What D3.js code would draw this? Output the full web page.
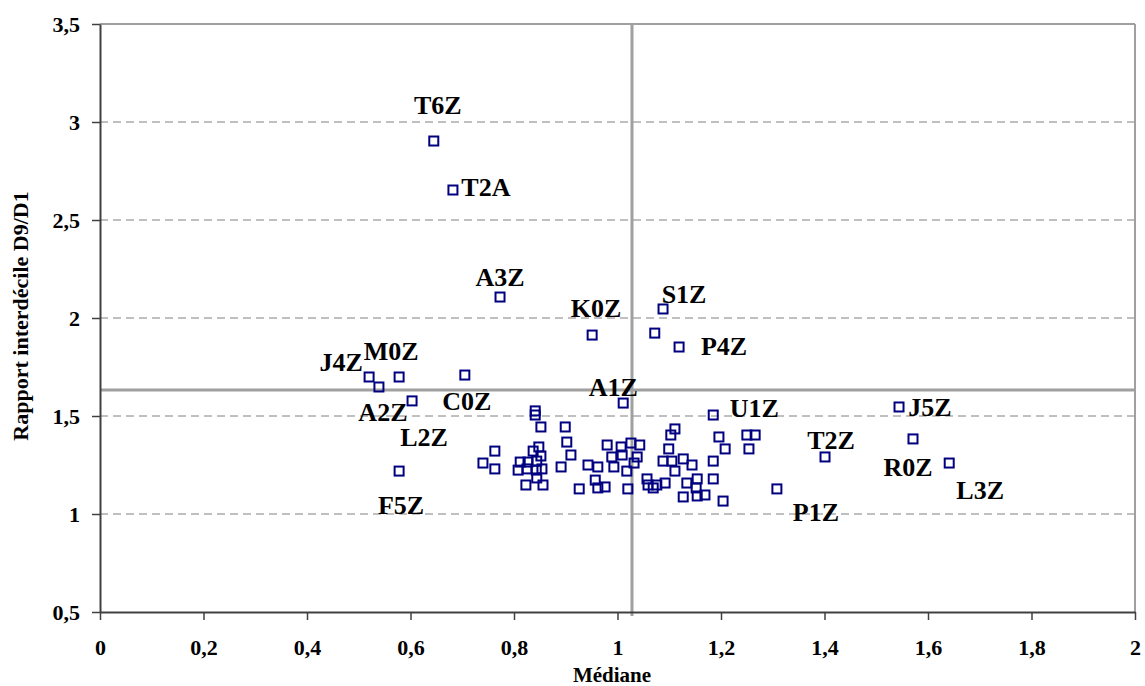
<!DOCTYPE html>
<html>
<head>
<meta charset="utf-8">
<script src="https://cdn.jsdelivr.net/npm/d3@7"></script>
<style>
body { margin: 0; background: #fff; }
text { font-family: "Liberation Serif", "Times New Roman", serif; font-weight: bold; }
</style>
</head>
<body>
<div id="grafico"></div>
<script>
const WIDTH = 1145;
const HEIGHT = 686;

// labelled points
const labels = ["T6Z","T2A","A3Z","K0Z","S1Z","P4Z","J4Z","M0Z","A2Z","C0Z","L2Z","F5Z","A1Z","U1Z","T2Z","P1Z","J5Z","R0Z","L3Z"];
const labelMedian = [0.645,0.682,0.773,0.951,1.088,1.119,0.520,0.578,0.539,0.705,0.603,0.578,1.011,1.185,1.401,1.308,1.544,1.571,1.641];
const labelRatio = [2.903,2.653,2.107,1.913,2.046,1.852,1.699,1.699,1.648,1.709,1.577,1.219,1.566,1.505,1.291,1.128,1.546,1.383,1.260];

// unlabelled points
const median = [0.740,0.763,0.763,0.841,0.841,0.852,0.899,0.902,0.848,0.837,0.852,0.910,0.812,0.827,0.844,0.808,0.825,0.843,0.854,0.891,0.823,0.844,0.856,0.926,
  0.943,0.962,0.957,0.962,0.976,0.980,1.007,1.026,1.043,0.989,1.009,1.038,0.993,1.018,1.032,1.020,
  1.057,1.059,1.069,1.076,1.092,1.088,1.105,1.127,1.144,1.111,1.099,1.111,1.103,1.134,1.154,1.152,1.169,1.154,1.127,1.185,1.185,1.196,1.208,1.204,1.250,1.266,1.254,1.072];
const ratio = [1.260,1.321,1.230,1.526,1.505,1.444,1.444,1.367,1.342,1.321,1.296,1.301,1.265,1.265,1.270,1.224,1.230,1.224,1.230,1.240,1.148,1.184,1.148,1.128,
  1.250,1.240,1.173,1.133,1.138,1.352,1.342,1.362,1.352,1.291,1.301,1.291,1.240,1.219,1.260,1.128,
  1.179,1.148,1.133,1.148,1.158,1.270,1.270,1.281,1.250,1.219,1.332,1.434,1.403,1.158,1.179,1.133,1.097,1.092,1.087,1.270,1.179,1.393,1.332,1.066,1.403,1.403,1.332,1.923];

const xTicks = [0,0.2,0.4,0.6,0.8,1,1.2,1.4,1.6,1.8,2];
const yTicks = [0.5,1,1.5,2,2.5,3,3.5];
const refMedian = 1.028;
const refRatio = 1.633;

// label placement relative to its marker (px)
const labelOffset = {
  T6Z:[4,-36], T2A:[33,-3], A3Z:[0,-20], K0Z:[4,-27], S1Z:[21,-15], P4Z:[45,-1],
  J4Z:[-28,-15], M0Z:[-8,-26], A2Z:[4,25], C0Z:[2,26], L2Z:[12,36], F5Z:[2,34],
  A1Z:[-10,-16], U1Z:[41,-7], T2Z:[6,-17], P1Z:[39,23], J5Z:[31,0], R0Z:[-5,28], L3Z:[31,27]
};

let svg = d3.select("#grafico")
    .append("svg")
    .attr("width",WIDTH)
    .attr("height",HEIGHT);

let x = d3.scaleLinear().domain([0,2]).range([100,1135]);
let y = d3.scaleLinear().domain([0.5,3.5]).range([612,24]);

const fmt = (d)=> String(d).replace(".",",");

// dashed grid
svg.append("g")
    .selectAll("line")
    .data(yTicks.filter(d=>d>0.5 && d<3.5))
    .enter()
    .append("line")
    .attr("x1",x(0)).attr("x2",x(2))
    .attr("y1",d=>y(d)).attr("y2",d=>y(d))
    .style("stroke","#808080")
    .style("stroke-width",1)
    .style("stroke-dasharray","8,5");

// frame top and right
svg.append("line")
    .attr("x1",x(0)).attr("x2",x(2)).attr("y1",y(3.5)).attr("y2",y(3.5))
    .style("stroke","#a0a0a0").style("stroke-width",2);
svg.append("line")
    .attr("x1",x(2)).attr("x2",x(2)).attr("y1",y(3.5)).attr("y2",y(0.5))
    .style("stroke","#a0a0a0").style("stroke-width",2);

// reference lines
svg.append("line")
    .attr("x1",x(refMedian)).attr("x2",x(refMedian)).attr("y1",y(3.5)).attr("y2",y(0.5)+4)
    .style("stroke","#a0a0a0").style("stroke-width",3);
svg.append("line")
    .attr("x1",x(0)).attr("x2",x(2)).attr("y1",y(refRatio)).attr("y2",y(refRatio))
    .style("stroke","#a0a0a0").style("stroke-width",3);

// axes
let xAxis = svg.append("g")
    .attr("transform","translate(0,"+y(0.5)+")")
    .call(d3.axisBottom(x).tickValues(xTicks).tickSize(8).tickSizeOuter(0).tickPadding(19).tickFormat(fmt));
let yAxis = svg.append("g")
    .attr("transform","translate("+x(0)+",0)")
    .call(d3.axisLeft(y).tickValues(yTicks).tickSize(8).tickSizeOuter(0).tickPadding(12).tickFormat(fmt));

[xAxis,yAxis].forEach((a)=>{
    a.select(".domain").style("stroke","#404040").style("stroke-width",2);
    a.selectAll(".tick line").style("stroke","#404040").style("stroke-width",1.5);
    a.selectAll(".tick text")
        .style("font-family","Liberation Serif")
        .style("font-weight","bold")
        .style("font-size","22px")
        .style("fill","black");
});

// markers
const SIZE = 9;
function drawSquares(xs,ys){
    svg.append("g")
        .selectAll("rect")
        .data(xs.map((d,i)=>[d,ys[i]]))
        .enter()
        .append("rect")
        .attr("x",d=>x(d[0])-SIZE/2)
        .attr("y",d=>y(d[1])-SIZE/2)
        .attr("width",SIZE)
        .attr("height",SIZE)
        .style("fill","none")
        .style("stroke","#000080")
        .style("stroke-width",2);
}
drawSquares(median,ratio);
drawSquares(labelMedian,labelRatio);

// point labels
svg.append("g")
    .selectAll("text")
    .data(labels)
    .enter()
    .append("text")
    .attr("x",(d,i)=>x(labelMedian[i])+labelOffset[d][0])
    .attr("y",(d,i)=>y(labelRatio[i])+labelOffset[d][1])
    .attr("dy","0.35em")
    .attr("text-anchor","middle")
    .style("font-size","26px")
    .style("fill","black")
    .text(d=>d);

// axis titles
svg.append("text")
    .attr("x",612)
    .attr("y",682)
    .attr("text-anchor","middle")
    .style("font-size","21px")
    .text("Médiane");
svg.append("text")
    .attr("transform","translate(28,316) rotate(-90)")
    .attr("text-anchor","middle")
    .style("font-size","22px")
    .text("Rapport interdécile D9/D1");
</script>
</body>
</html>
